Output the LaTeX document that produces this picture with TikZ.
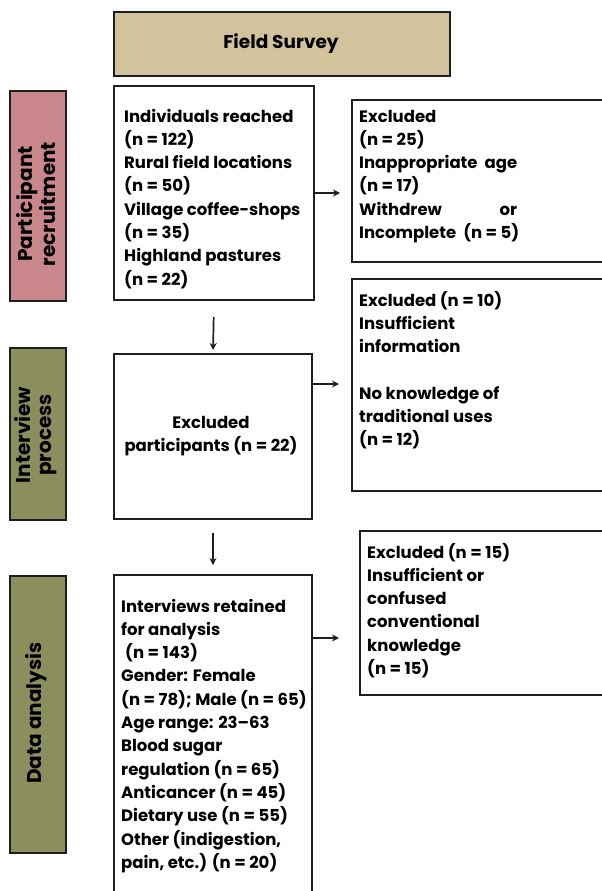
\documentclass[tikz,border=0pt]{standalone}
\usepackage{fontspec}
\setmainfont{Poppins}
\usetikzlibrary{arrows.meta,calc}
\definecolor{tanfill}{RGB}{211,195,156}
\definecolor{rosefill}{RGB}{201,134,139}
\definecolor{olivefill}{RGB}{139,143,94}
\definecolor{edge}{RGB}{30,30,30}
\newcommand{\lefttab}[1]{\begin{tabular}[t]{@{}l@{}}#1\end{tabular}}
\newcommand{\centtab}[1]{\begin{tabular}[t]{@{}c@{}}#1\end{tabular}}
\tikzset{
  frame/.style={draw=edge,line width=2pt,anchor=north west,inner sep=0pt},
  lbl/.style={frame,fill=#1},
  txt/.style={anchor=base west,inner sep=0pt,font=\fontsize{16.5}{23.3}\selectfont\bfseries},
  vtxt/.style={inner sep=0pt,align=center,rotate=90,font=\fontsize{20}{21}\selectfont\bfseries},
  arr/.style={draw=edge,line width=1.7pt,-{Stealth[length=7pt,width=7pt]}}
}
\begin{document}
\begin{tikzpicture}[x=1pt,y=-1pt]
\useasboundingbox (0,0) rectangle (602,891);
\clip (0,0) rectangle (602,891);
% header
\node[lbl=tanfill,minimum width=336pt,minimum height=64pt] (fs) at (113,11) {};
\node[font=\fontsize{18.5}{20}\selectfont\bfseries] (fst) at (281,44) {Field Survey};
% side labels
\node[lbl=rosefill,minimum width=56pt,minimum height=210pt] (l1) at (9,90) {};
\node[vtxt] (l1t) at (36,204) {Participant\\recruitment};
\node[lbl=olivefill,minimum width=56pt,minimum height=172pt] (l2) at (9,347) {};
\node[vtxt] (l2t) at (36,435) {Interview\\process};
\node[lbl=olivefill,minimum width=56pt,minimum height=277pt] (l3) at (9,575) {};
\node[vtxt] (l3t) at (36,713) {Data analysis};
% main boxes
\node[frame,minimum width=200pt,minimum height=214pt] (b1) at (113,85) {};
\node[txt] (b1t) at (124,122) {\lefttab{Individuals reached\\(n = 122)\\Rural field locations\\(n = 50)\\Village coffee-shops\\(n = 35)\\Highland pastures\\(n = 22)}};
\node[frame,minimum width=198pt,minimum height=165pt] (b2) at (113,353) {};
\node[txt,anchor=base] (b2t) at (211,428) {\centtab{Excluded\\participants (n = 22)}};
\node[frame,minimum width=198pt,minimum height=340pt] (b3) at (113,574) {};
\node[txt] (b3t) at (121,612) {\lefttab{Interviews retained\\for analysis\\\hspace*{4pt}(n = 143)\\Gender: Female\\(n = 78); Male (n = 65)\\Age range: 23--63\\Blood sugar\\regulation (n = 65)\\Anticancer (n = 45)\\Dietary use (n = 55)\\Other (indigestion,\\pain, etc.) (n = 20)}};
% right boxes
\node[frame,minimum width=260pt,minimum height=162pt] (r1) at (351,99) {};
\node[txt] (r1t) at (359,122) {\lefttab{Excluded\\(n = 25)\\\hbox to 158pt{Inappropriate\hfill age}\\(n = 17)\\\hbox to 158pt{Withdrew\hfill or}\\Incomplete\ \ (n = 5)}};
\node[frame,minimum width=260pt,minimum height=212pt] (r2) at (351,278) {};
\node[txt] (r2t) at (359,306) {\lefttab{Excluded (n = 10)\\Insufficient\\information\\[23.3pt]No knowledge of\\traditional uses\\(n = 12)}};
\node[frame,minimum width=260pt,minimum height=164pt] (r3) at (359,530) {};
\node[txt] (r3t) at (367,558) {\lefttab{Excluded (n = 15)\\Insufficient or\\confused\\conventional\\knowledge\\(n = 15)}};
% connectors
\coordinate (a2) at (311,384);
\coordinate (a3) at (311,638);
\draw[arr,shorten >=11pt] (b1.east) -- (b1.east -| r1.west);
\draw[arr,shorten >=12pt] (a2) -- (a2 -| r2.west);
\draw[arr,shorten >=20pt] (a3) -- (a3 -| r3.west);
\draw[arr,shorten <=16pt,shorten >=3pt] (b1.south) -- (b2.north);
\draw[arr,shorten <=13pt,shorten >=9pt] (b2.south) -- (b3.north);
\end{tikzpicture}
\end{document}
